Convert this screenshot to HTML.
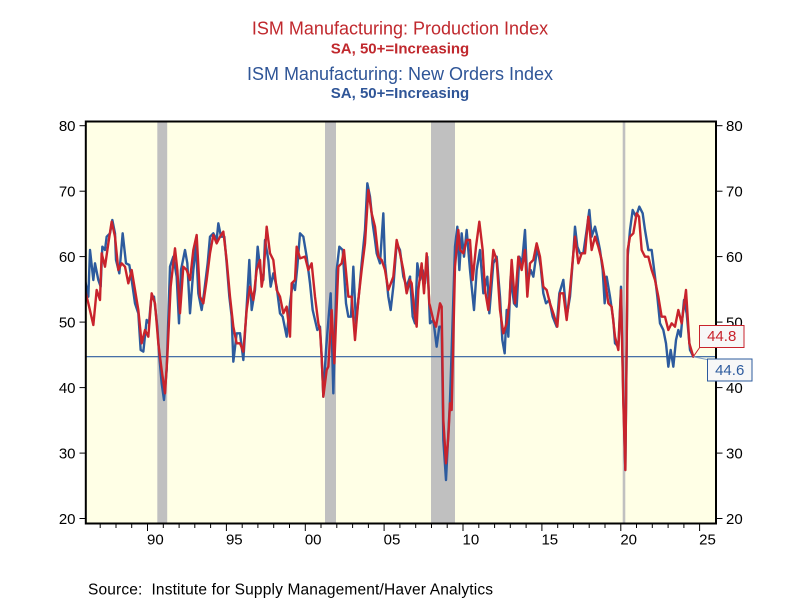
<!DOCTYPE html>
<html>
<head>
<meta charset="utf-8">
<style>
  html, body { margin:0; padding:0; background:#ffffff; }
  svg { display:block; }
  text { font-family: "Liberation Sans", Arial, sans-serif; }
</style>
</head>
<body>
<svg width="800" height="600" viewBox="0 0 800 600" xmlns="http://www.w3.org/2000/svg">
  <rect x="0" y="0" width="800" height="600" fill="#ffffff"/>

  <!-- Titles -->
  <text x="400" y="34.7" text-anchor="middle" font-size="18" fill="#c0282d">ISM Manufacturing: Production Index</text>
  <text x="400" y="53.3" text-anchor="middle" font-size="15" font-weight="bold" fill="#c0282d">SA, 50+=Increasing</text>
  <text x="400" y="80" text-anchor="middle" font-size="18" fill="#2f5597">ISM Manufacturing: New Orders Index</text>
  <text x="400" y="98" text-anchor="middle" font-size="15" font-weight="bold" fill="#2f5597">SA, 50+=Increasing</text>

  <defs>
    <clipPath id="plot">
      <rect x="86.5" y="122.3" width="628.8" height="400.4"/>
    </clipPath>
  </defs>

  <!-- Plot background -->
  <rect x="85.8" y="121.5" width="630.2" height="402" fill="#ffffe6"/>

  <!-- Recession bands -->
  <g fill="#c0c0c0">
    <rect x="157.3" y="121.5" width="9.9" height="402"/>
    <rect x="325" y="121.5" width="11" height="402"/>
    <rect x="431" y="121.5" width="24" height="402"/>
    <rect x="622.7" y="121.5" width="2.6" height="402"/>
  </g>

  <!-- Reference line 44.6 -->
  <line x1="86" y1="356.7" x2="716" y2="356.7" stroke="#2d5b9e" stroke-width="1.2"/>

  <g clip-path="url(#plot)" fill="none" stroke-linejoin="round" stroke-linecap="round">
    <!-- Blue: New Orders -->
    <g stroke="#2d5b9e" stroke-width="7.2">
      <polyline transform="translate(80,170) scale(0.33333)" points="15,330 25,380 30,240 40,330 45,280 55,330 62,350 67,230 75,240 80,200 90,190 97,150 105,190 108,270 118,310 128,190 138,280 148,285 155,330 165,400 175,430 182,540 190,545 200,450 207,460 213,390 222,380 232,470 238,560 245,640 252,690 260,600 270,290 280,260 290,320 297,460 303,300 315,240 322,280 330,430 340,300 348,225 355,370 365,420 372,370 383,280 390,200 400,190 410,210 415,160 423,200 433,200 440,280 448,380 455,440 460,575 470,490 480,490"/>
      <polyline transform="translate(240,170) scale(0.33333)" points="0,490 10,570 20,410 28,270 35,420 45,360 53,230 62,310 70,330 75,210 85,270 92,350 100,310 110,350 120,430 128,440 140,500 150,400 158,340 165,360 172,290 180,190 190,200 200,260 210,340 218,420 225,450 232,480 240,470 245,560 250,680 258,540 266,440 272,370 280,670 290,300 298,230 308,240 318,400 325,440 333,440 340,290 348,460 358,360 365,280 375,180 382,40 390,80 398,160 405,210 410,250 420,280 430,130 435,280 445,380 452,420 460,350 470,220 480,240 490,320 500,350 510,320"/>
      <polyline transform="translate(400,170) scale(0.33333)" points="30,320 38,440 45,460 52,280 60,330 68,300 75,340 82,260 90,460 100,450 110,530 118,470 125,470 130,810 138,930 145,790 150,690 155,540 165,230 172,170 178,300 185,190 192,260 200,180 210,300 216,360 222,420 230,300 240,240 250,370 262,320 268,430 280,280 290,260 300,380 307,510 314,550 320,420 325,500 332,320 342,400 350,410 358,260 366,280 375,180 382,340 392,300 400,320 412,230 422,290 430,370 438,400 448,390 458,440 470,470 478,370 490,330"/>
      <polyline transform="translate(560,170) scale(0.33333)" points="10,330 20,440 30,380 40,250 45,170 52,230 60,250 70,250 80,180 88,120 95,200 105,170 112,200 120,240 128,300 134,400 140,320 150,380 160,450 165,520 175,530 183,350 190,680 196,900 203,260 210,180 218,120 228,140 238,110 248,130 255,180 265,240 275,240 285,320 292,380 300,460 310,480 318,520 325,590 332,540 340,590 348,510 355,480 362,500 372,390 380,430 390,540 400,560"/>
    </g>
    <!-- Red: Production -->
    <g stroke="#c8232c" stroke-width="7.2">
      <polyline transform="translate(80,170) scale(0.33333)" points="15,360 25,400 40,465 50,360 60,390 65,250 75,290 85,220 95,155 105,200 115,300 125,280 135,290 145,340 155,300 165,360 175,420 185,520 195,480 205,500 215,370 225,400 235,520 245,600 255,670 262,560 272,350 285,235 292,300 300,430 310,290 320,300 330,330 340,240 350,195 360,380 370,400 380,330 390,250 400,195 410,220 420,200 430,185 440,270 450,380 460,470 470,520 480,520"/>
      <polyline transform="translate(240,170) scale(0.33333)" points="0,520 10,545 20,420 30,350 40,390 50,300 60,270 65,350 70,320 80,170 90,250 100,270 110,360 120,380 130,430 140,410 150,500 155,340 165,330 170,230 180,265 195,260 205,300 215,280 225,380 235,460 240,480 245,560 250,680 260,600 265,590 275,420 283,580 295,290 305,280 312,240 325,380 335,380 345,510 355,390 365,300 375,220 385,60 395,130 405,170 415,260 425,270 435,300 445,360 460,320 470,210 480,250 490,300 500,370 510,330"/>
      <polyline transform="translate(400,170) scale(0.33333)" points="30,330 35,340 45,440 50,470 55,360 65,280 72,370 80,250 88,400 100,450 108,470 120,400 125,410 130,750 138,880 145,800 150,700 155,720 165,290 175,180 180,240 190,250 200,210 210,210 218,330 228,230 238,155 248,240 255,360 265,420 280,240 290,270 300,420 310,490 320,460 328,400 335,270 345,400 355,260 365,300 375,240 382,380 390,280 400,270 410,220 420,260 430,350 440,360 450,400 460,430 472,470 480,370 490,370"/>
      <polyline transform="translate(560,170) scale(0.33333)" points="10,370 20,450 30,360 40,250 45,200 55,280 65,250 75,250 85,140 95,240 105,200 115,230 125,270 135,330 145,400 155,410 165,500 175,540 183,360 190,700 196,900 203,240 210,200 220,190 230,130 237,140 245,240 255,260 265,260 275,300 285,330 295,380 305,440 315,440 325,480 335,460 345,470 355,420 365,460 378,360 388,520 400,560"/>
    </g>
  </g>

  <!-- Frame -->
  <rect x="85.8" y="121.5" width="630.2" height="402" fill="none" stroke="#000000" stroke-width="2"/>

  <!-- Y ticks left & right -->
  <g stroke="#000000" stroke-width="1">
    <line x1="79.5" y1="125.7" x2="85" y2="125.7"/>
    <line x1="79.5" y1="191.2" x2="85" y2="191.2"/>
    <line x1="79.5" y1="256.6" x2="85" y2="256.6"/>
    <line x1="79.5" y1="322.1" x2="85" y2="322.1"/>
    <line x1="79.5" y1="387.6" x2="85" y2="387.6"/>
    <line x1="79.5" y1="453.1" x2="85" y2="453.1"/>
    <line x1="79.5" y1="518.5" x2="85" y2="518.5"/>
    <line x1="717" y1="125.7" x2="722.5" y2="125.7"/>
    <line x1="717" y1="191.2" x2="722.5" y2="191.2"/>
    <line x1="717" y1="256.6" x2="722.5" y2="256.6"/>
    <line x1="717" y1="322.1" x2="722.5" y2="322.1"/>
    <line x1="717" y1="387.6" x2="722.5" y2="387.6"/>
    <line x1="717" y1="453.1" x2="722.5" y2="453.1"/>
    <line x1="717" y1="518.5" x2="722.5" y2="518.5"/>
  </g>
  <g font-size="15" fill="#000000">
    <g text-anchor="end">
      <text x="75.5" y="131">80</text>
      <text x="75.5" y="196.5">70</text>
      <text x="75.5" y="261.9">60</text>
      <text x="75.5" y="327.4">50</text>
      <text x="75.5" y="392.9">40</text>
      <text x="75.5" y="458.4">30</text>
      <text x="75.5" y="523.8">20</text>
    </g>
    <g text-anchor="start">
      <text x="726" y="131">80</text>
      <text x="726" y="196.5">70</text>
      <text x="726" y="261.9">60</text>
      <text x="726" y="327.4">50</text>
      <text x="726" y="392.9">40</text>
      <text x="726" y="458.4">30</text>
      <text x="726" y="523.8">20</text>
    </g>
  </g>

  <!-- X ticks -->
  <g stroke="#000000" stroke-width="1">
    <line x1="100.2" y1="524" x2="100.2" y2="528"/>
    <line x1="116.0" y1="524" x2="116.0" y2="528"/>
    <line x1="131.7" y1="524" x2="131.7" y2="528"/>
    <line x1="147.5" y1="524" x2="147.5" y2="531"/>
    <line x1="163.3" y1="524" x2="163.3" y2="528"/>
    <line x1="179.1" y1="524" x2="179.1" y2="528"/>
    <line x1="194.8" y1="524" x2="194.8" y2="528"/>
    <line x1="210.6" y1="524" x2="210.6" y2="528"/>
    <line x1="226.4" y1="524" x2="226.4" y2="531"/>
    <line x1="242.2" y1="524" x2="242.2" y2="528"/>
    <line x1="257.9" y1="524" x2="257.9" y2="528"/>
    <line x1="273.7" y1="524" x2="273.7" y2="528"/>
    <line x1="289.5" y1="524" x2="289.5" y2="528"/>
    <line x1="305.3" y1="524" x2="305.3" y2="531"/>
    <line x1="321.0" y1="524" x2="321.0" y2="528"/>
    <line x1="336.8" y1="524" x2="336.8" y2="528"/>
    <line x1="352.6" y1="524" x2="352.6" y2="528"/>
    <line x1="368.4" y1="524" x2="368.4" y2="528"/>
    <line x1="384.1" y1="524" x2="384.1" y2="531"/>
    <line x1="399.9" y1="524" x2="399.9" y2="528"/>
    <line x1="415.7" y1="524" x2="415.7" y2="528"/>
    <line x1="431.5" y1="524" x2="431.5" y2="528"/>
    <line x1="447.2" y1="524" x2="447.2" y2="528"/>
    <line x1="463.0" y1="524" x2="463.0" y2="531"/>
    <line x1="478.8" y1="524" x2="478.8" y2="528"/>
    <line x1="494.6" y1="524" x2="494.6" y2="528"/>
    <line x1="510.3" y1="524" x2="510.3" y2="528"/>
    <line x1="526.1" y1="524" x2="526.1" y2="528"/>
    <line x1="541.9" y1="524" x2="541.9" y2="531"/>
    <line x1="557.7" y1="524" x2="557.7" y2="528"/>
    <line x1="573.4" y1="524" x2="573.4" y2="528"/>
    <line x1="589.2" y1="524" x2="589.2" y2="528"/>
    <line x1="605.0" y1="524" x2="605.0" y2="528"/>
    <line x1="620.8" y1="524" x2="620.8" y2="531"/>
    <line x1="636.5" y1="524" x2="636.5" y2="528"/>
    <line x1="652.3" y1="524" x2="652.3" y2="528"/>
    <line x1="668.1" y1="524" x2="668.1" y2="528"/>
    <line x1="683.9" y1="524" x2="683.9" y2="528"/>
    <line x1="699.6" y1="524" x2="699.6" y2="531"/>
  </g>
  <g font-size="15" fill="#000000" text-anchor="middle">
    <text x="155.4" y="544.5">90</text>
    <text x="234.3" y="544.5">95</text>
    <text x="313.2" y="544.5">00</text>
    <text x="392.0" y="544.5">05</text>
    <text x="470.9" y="544.5">10</text>
    <text x="549.8" y="544.5">15</text>
    <text x="628.7" y="544.5">20</text>
    <text x="707.5" y="544.5">25</text>
  </g>

  <!-- End labels -->
  <line x1="693.3" y1="356.7" x2="700" y2="347" stroke="#c8232c" stroke-width="1"/>
  <line x1="693.3" y1="356.7" x2="707" y2="359.5" stroke="#7f9cc8" stroke-width="1"/>
  <rect x="699.5" y="325.5" width="44.5" height="22" fill="#f7f7f7" stroke="#c8232c" stroke-width="1"/>
  <text x="721.7" y="341" font-size="15" text-anchor="middle" fill="#c8232c">44.8</text>
  <rect x="707.5" y="359" width="44.5" height="22" fill="#f7f7f7" stroke="#2d5b9e" stroke-width="1"/>
  <text x="729.7" y="375" font-size="15" text-anchor="middle" fill="#2d5b9e">44.6</text>

  <!-- Source -->
  <text x="88" y="594.3" font-size="15.5" fill="#000000" textLength="405" lengthAdjust="spacing" xml:space="preserve">Source:  Institute for Supply Management/Haver Analytics</text>
</svg>
</body>
</html>
